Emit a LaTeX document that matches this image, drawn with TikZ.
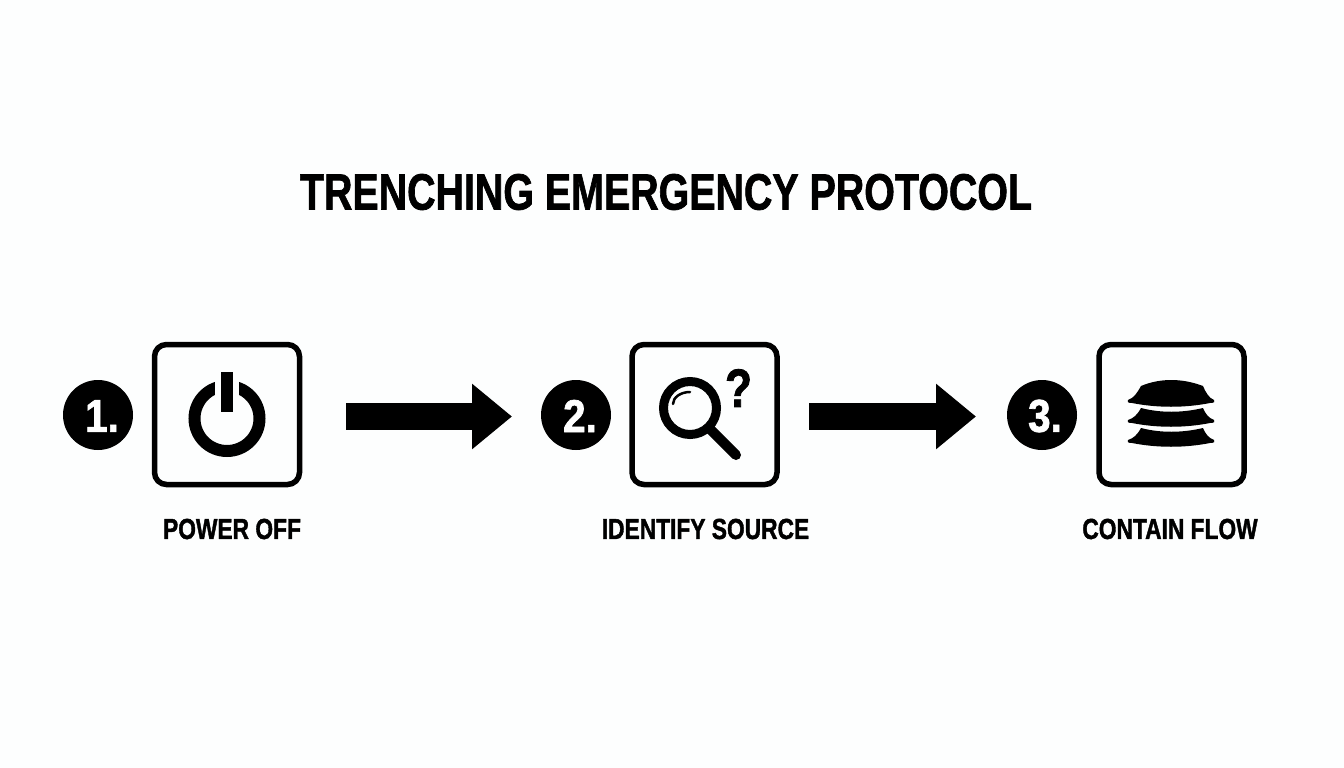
\documentclass[tikz,border=0pt]{standalone}
\usepackage{fontspec}
\setmainfont{Liberation Sans}
\newfontfamily\heavyfont[FakeBold=1.6]{Liberation Sans Bold}
\usetikzlibrary{arrows.meta}
\definecolor{paper}{HTML}{FDFEFE}
\tikzset{x=1pt, y=-1pt}
\tikzset{
  stepcircle/.style = {circle, fill=black, minimum size=70pt, inner sep=0pt},
  stepnumber/.style = {text=white, font=\fontsize{46}{46}\heavyfont, inner sep=0pt},
  iconbox/.style    = {draw=black, line width=5.5pt, rounded corners=12pt, fill=none,
                       minimum width=145pt, minimum height=140pt, inner sep=0pt},
  steplabel/.style  = {font=\fontsize{29}{29}\heavyfont, inner sep=0pt},
  bigarrow/.style   = {line width=27pt, -{Triangle[length=40pt,width=63pt]}},
  sandbag/.style    = {fill=black, draw=none}
}
\newcommand{\stepsandbag}[3]{
  % tip y, top corner y, top control y
  \fill[sandbag] (1128,#1) .. controls (1134,#1-2) and (1137,#2+7) .. (1141,#2)
    .. controls (1160,#3) and (1182,#3) .. (1203,#2)
    .. controls (1206,#2+7) and (1209,#1-2) .. (1214,#1)
    .. controls (1216,#1+1.5) and (1214,#1+3) .. (1210,#1+3)
    .. controls (1185,#1+8) and (1157,#1+8) .. (1132,#1+3)
    .. controls (1128,#1+3) and (1126,#1+1.5) .. (1128,#1) -- cycle;
}
\begin{document}
\begin{tikzpicture}
	\fill[paper] (0,0) rectangle (1344,768);
	\useasboundingbox (0,0) rectangle (1344,768);
	\node (title) at (666,192) {\fontsize{51}{51}\heavyfont\scalebox{.772}[1]{TRENCHING EMERGENCY PROTOCOL}};
	% step circles
	\node[stepcircle] (one) at (98,415) {};
	\node[stepcircle] (two) at (576,415) {};
	\node[stepcircle] (three) at (1042,415) {};
	\node[stepnumber] (numone) at (102,416) {\scalebox{.88}[1]{1.}};
	\node[stepnumber] (numtwo) at (580,416) {\scalebox{.88}[1]{2.}};
	\node[stepnumber] (numthree) at (1045,416) {\scalebox{.88}[1]{3.}};
	% icon boxes
	\node[iconbox] (boxone) at (227,414.5) {};
	\node[iconbox] (boxtwo) at (704.5,414.5) {};
	\node[iconbox] (boxthree) at (1171.5,414.5) {};
	% labels
	\node[steplabel] (labelone) at (232,529) {\scalebox{.785}[1]{POWER OFF}};
	\node[steplabel] (labeltwo) at (705.5,529) {\scalebox{.785}[1]{IDENTIFY SOURCE}};
	\node[steplabel] (labelthree) at (1170,529) {\scalebox{.785}[1]{CONTAIN FLOW}};
	% arrows
	\coordinate (startone) at (346,416.5);
	\coordinate (endone) at (512,416.5);
	\coordinate (starttwo) at (809,416.5);
	\coordinate (endtwo) at (976,416.5);
	\draw[bigarrow] (startone) -- (endone);
	\draw[bigarrow] (starttwo) -- (endtwo);
	% power icon
	\draw[line width=12pt] (227,418.5) circle (32.5);
	\fill[paper] (215,375) rectangle (239,410);
	\fill[black] (221,372) rectangle (233,412);
	% magnifier icon
	\draw[line width=9pt] (690,408) circle (26.5);
	\draw[line width=10pt, line cap=round] (709,428) -- (736,455);
	\draw[line width=2.5pt, line cap=round] (673,404) arc[start angle=180, end angle=270, x radius=17, y radius=12];
	\node[inner sep=0pt] (query) at (738.5,388) {\fontsize{54}{54}\heavyfont\scalebox{.82}[1]{?}};
	% sandbag icon
	\stepsandbag{400}{386}{378}
	\stepsandbag{420}{408}{413}
	\stepsandbag{440}{428}{433}
\end{tikzpicture}
\end{document}
